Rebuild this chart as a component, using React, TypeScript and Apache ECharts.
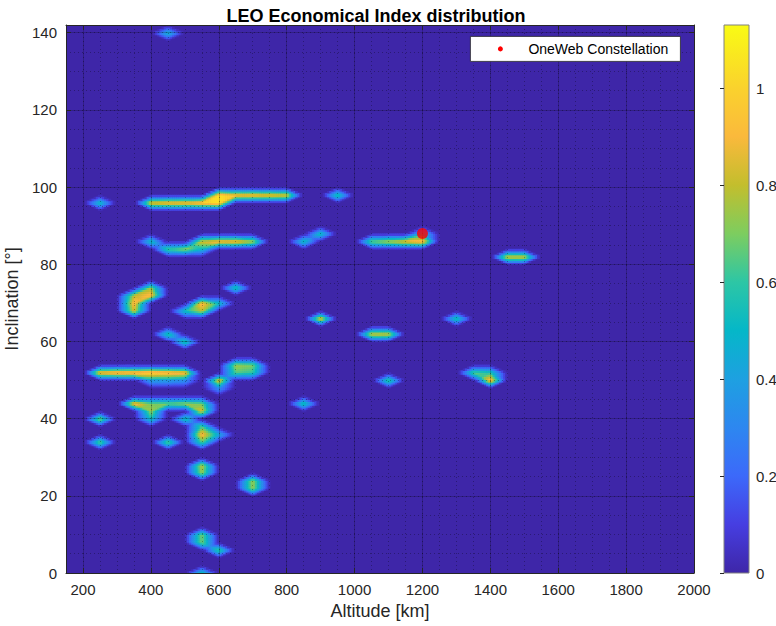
import React, { useEffect, useRef } from 'react';
import * as echarts from 'echarts';

// Surface grid (altitude in km, inclination in degrees)
const ALT_MIN = 150;
const ALT_MAX = 2000;
const ALT_STEP = 50;
const INC_MIN = 0;
const INC_MAX = 142;
const INC_STEP = 2;
const INDEX_MAX = 1.13;

// Non-zero nodes of the economical index surface
const nodeAltitude = [
  450,
  250, 400, 450, 500, 550, 600,
  600, 650, 700, 750, 800, 950,
  400, 450, 500, 550, 550, 600, 650, 700,
  850, 900,
  1050, 1100, 1150, 1200, 1200,
  1450, 1500,
  650,
  350, 350, 350, 400, 400,
  500, 550, 550, 600,
  900, 1050, 1100, 1300,
  450, 500,
  250, 300, 350, 400, 450, 500,
  400, 450, 500,
  600, 600,
  650, 700, 650, 700,
  850, 1100,
  1350, 1400, 1400,
  350, 400, 450, 500, 550,
  400, 400, 500, 550,
  550, 550, 550, 600,
  250, 250, 450,
  550, 550, 700, 700,
  550, 550, 600,
  550,
];
const nodeInclination = [
  140,
  96, 96, 96, 96, 96, 96,
  98, 98, 98, 98, 98, 98,
  86, 84, 84, 84, 86, 86, 86, 86,
  86, 88,
  86, 86, 86, 86, 88,
  82, 82,
  74,
  68, 70, 72, 72, 74,
  68, 68, 70, 70,
  66, 62, 62, 66,
  62, 60,
  52, 52, 52, 52, 52, 52,
  50, 50, 50,
  50, 48,
  52, 52, 54, 54,
  44, 50,
  52, 50, 52,
  44, 44, 44, 44, 44,
  42, 40, 40, 42,
  34, 36, 38, 36,
  40, 34, 34,
  26, 28, 22, 24,
  8, 10, 6,
  0,
];
const nodeIndex = [
  0.5,
  0.55, 0.9, 0.95, 0.95, 1.0, 1.05,
  1.05, 0.95, 0.95, 0.92, 0.88, 0.6,
  0.55, 0.65, 0.75, 0.5, 0.85, 0.95, 0.95, 0.8,
  0.55, 0.55,
  0.7, 0.8, 0.9, 1.0, 0.5,
  0.85, 0.85,
  0.6,
  0.85, 0.95, 0.8, 0.95, 0.75,
  0.55, 0.8, 0.95, 0.55,
  0.92, 0.85, 0.85, 0.6,
  0.6, 0.6,
  0.95, 1.0, 1.0, 1.05, 1.0, 0.95,
  0.4, 0.4, 0.35,
  0.9, 0.35,
  0.65, 0.6, 0.75, 0.7,
  0.6, 0.65,
  0.65, 1.0, 0.6,
  0.95, 0.7, 0.7, 0.75, 0.7,
  0.75, 0.55, 0.55, 0.85,
  0.65, 0.95, 0.65, 0.45,
  0.75, 0.7, 0.7,
  0.75, 0.8, 0.75, 0.75,
  0.7, 0.7, 0.65,
  0.6,
];

// OneWeb constellation operating point
const onewebAltitude = [1200];
const onewebInclination = [88];
const ONEWEB_NAME = 'OneWeb Constellation';

// Colormap stops: [index value, r, g, b]
const COLORMAP: number[][] = [
  [0.0, 62, 38, 168],
  [0.1, 70, 62, 225],
  [0.2, 60, 105, 250],
  [0.3, 45, 135, 240],
  [0.4, 30, 160, 225],
  [0.5, 5, 183, 200],
  [0.6, 45, 198, 165],
  [0.7, 125, 205, 95],
  [0.8, 195, 190, 45],
  [0.9, 250, 185, 60],
  [1.0, 250, 210, 45],
  [1.13, 249, 251, 20],
];

function colorOf(v: number): string {
  const x = Math.max(0, Math.min(INDEX_MAX, v));
  for (let k = 1; k < COLORMAP.length; k++) {
    if (x <= COLORMAP[k][0]) {
      const a = COLORMAP[k - 1];
      const b = COLORMAP[k];
      const u = (x - a[0]) / (b[0] - a[0]);
      const r = Math.round(a[1] + (b[1] - a[1]) * u);
      const g = Math.round(a[2] + (b[2] - a[2]) * u);
      const bl = Math.round(a[3] + (b[3] - a[3]) * u);
      return `rgb(${r},${g},${bl})`;
    }
  }
  const l = COLORMAP[COLORMAP.length - 1];
  return `rgb(${l[1]},${l[2]},${l[3]})`;
}

// Value inside one grid cell: the cell is split into four triangles
// around its centre, each shaded linearly.
function cellValue(s: number, t: number, v00: number, v10: number, v01: number, v11: number, c: number) {
  if (t <= s && t <= 1 - s) return (1 - s - t) * v00 + (s - t) * v10 + 2 * t * c;
  if (s >= t && s >= 1 - t) return (s - t) * v10 + (s + t - 1) * v11 + 2 * (1 - s) * c;
  if (t >= s && t >= 1 - s) return (s + t - 1) * v11 + (t - s) * v01 + 2 * (1 - t) * c;
  return (t - s) * v01 + (1 - s - t) * v00 + 2 * s * c;
}

function buildCells() {
  const lookup = new Map<string, number>();
  nodeAltitude.forEach((a, k) => lookup.set(`${a}|${nodeInclination[k]}`, nodeIndex[k]));
  const get = (a: number, i: number) => lookup.get(`${a}|${i}`) ?? 0;
  const keys = new Set<string>();
  const cells: number[][] = [];
  nodeAltitude.forEach((a, k) => {
    const i = nodeInclination[k];
    for (const da of [-ALT_STEP, 0]) {
      for (const di of [-INC_STEP, 0]) {
        const ca = a + da;
        const ci = i + di;
        if (ca < ALT_MIN || ca + ALT_STEP > ALT_MAX || ci < INC_MIN || ci + INC_STEP > INC_MAX) continue;
        const key = `${ca}|${ci}`;
        if (keys.has(key)) continue;
        keys.add(key);
        cells.push([
          ca, ci,
          get(ca, ci), get(ca + ALT_STEP, ci),
          get(ca, ci + INC_STEP), get(ca + ALT_STEP, ci + INC_STEP),
        ]);
      }
    }
  });
  return cells;
}

const NX = 8;
const NY = 4;
const AXIS_COLOR = '#262626';
const MAJOR_GRID = 'rgba(0,0,0,0.2)';
const MINOR_GRID = 'rgba(0,0,0,0.3)';
const FONT = "'Liberation Sans', Arial, Helvetica, sans-serif";
const plainNumber = (v: number) => String(parseFloat(v.toFixed(2)));

function buildOption(): echarts.EChartsOption {
  const cells = buildCells();
  const gradientStops = COLORMAP.map((s) => ({
    offset: s[0] / INDEX_MAX,
    color: `rgb(${s[1]},${s[2]},${s[3]})`,
  }));

  return {
    animation: false,
    backgroundColor: '#ffffff',
    textStyle: { fontFamily: FONT },
    title: {
      text: 'LEO Economical Index distribution',
      left: 371,
      top: 2,
      textAlign: 'center',
      textStyle: { fontSize: 18, fontWeight: 'bold', color: '#000', fontFamily: FONT },
    },
    graphic: [
      {
        type: 'group',
        left: 470,
        top: 36,
        z: 100,
        children: [
          {
            type: 'rect',
            z: 100,
            shape: { x: 0, y: 0, width: 210, height: 25 },
            style: { fill: '#ffffff', stroke: AXIS_COLOR, lineWidth: 0.8 },
          },
          {
            type: 'circle',
            z: 101,
            shape: { cx: 30, cy: 12.5, r: 2.5 },
            style: { fill: '#ff0000' },
          },
          {
            type: 'text',
            z: 101,
            x: 58,
            y: 12.5,
            style: {
              text: ONEWEB_NAME,
              fill: '#000',
              fontSize: 14,
              fontFamily: FONT,
              verticalAlign: 'middle',
              align: 'left',
            },
          },
        ],
      },
    ],
    grid: [
      {
        left: 66, top: 25, width: 628, height: 548, show: true,
        backgroundColor: colorOf(0), borderWidth: 0, outerBoundsMode: 'none', containLabel: false,
      },
      { left: 724, top: 25, width: 25, height: 548, outerBoundsMode: 'none', containLabel: false },
    ],
    xAxis: [
      {
        gridIndex: 0, type: 'value', min: ALT_MIN, max: ALT_MAX, interval: ALT_STEP, position: 'bottom', z: 5,
        axisLine: { show: true, onZero: false, lineStyle: { color: AXIS_COLOR, width: 1 } },
        axisTick: { show: false }, axisLabel: { show: false },
        splitLine: { show: true, lineStyle: { color: MINOR_GRID, width: 1, type: [1, 3] } },
      },
      {
        gridIndex: 0, type: 'value', min: ALT_MIN, max: ALT_MAX, splitNumber: 9, position: 'bottom', z: 5,
        axisLine: { show: false, onZero: false },
        axisTick: { show: true, inside: true, length: 5, lineStyle: { color: AXIS_COLOR } },
        axisLabel: {
          fontSize: 15, color: AXIS_COLOR, margin: 9, showMinLabel: false, fontFamily: FONT,
          formatter: plainNumber,
        },
        splitLine: { show: true, lineStyle: { color: MAJOR_GRID, width: 1 } },
        name: 'Altitude [km]', nameLocation: 'middle', nameGap: 24,
        nameTextStyle: { fontSize: 18, color: AXIS_COLOR, fontFamily: FONT },
      },
      {
        gridIndex: 0, type: 'value', min: ALT_MIN, max: ALT_MAX, splitNumber: 9, position: 'top', z: 5,
        axisLine: { show: true, onZero: false, lineStyle: { color: AXIS_COLOR, width: 1 } },
        axisTick: { show: true, inside: true, length: 5, lineStyle: { color: AXIS_COLOR } },
        axisLabel: { show: false }, splitLine: { show: false },
      },
      { gridIndex: 1, type: 'value', min: 0, max: 1, show: false },
    ],
    yAxis: [
      {
        gridIndex: 0, type: 'value', min: INC_MIN, max: INC_MAX, interval: 5, position: 'left', z: 5,
        axisLine: { show: true, onZero: false, lineStyle: { color: AXIS_COLOR, width: 1 } },
        axisTick: { show: false }, axisLabel: { show: false },
        splitLine: { show: true, lineStyle: { color: MINOR_GRID, width: 1, type: [1, 3] } },
      },
      {
        gridIndex: 0, type: 'value', min: INC_MIN, max: INC_MAX, interval: 20, position: 'left', z: 5,
        axisLine: { show: false, onZero: false },
        axisTick: { show: true, inside: true, length: 5, lineStyle: { color: AXIS_COLOR } },
        axisLabel: {
          fontSize: 15, color: AXIS_COLOR, margin: 9, showMaxLabel: false, fontFamily: FONT,
          formatter: plainNumber,
        },
        splitLine: { show: true, lineStyle: { color: MAJOR_GRID, width: 1 } },
        name: 'Inclination [°]', nameLocation: 'middle', nameGap: 33, nameRotate: 90,
        nameTextStyle: { fontSize: 18, color: AXIS_COLOR, fontFamily: FONT },
      },
      {
        gridIndex: 0, type: 'value', min: INC_MIN, max: INC_MAX, interval: 20, position: 'right', z: 5,
        axisLine: { show: true, onZero: false, lineStyle: { color: AXIS_COLOR, width: 1 } },
        axisTick: { show: true, inside: true, length: 5, lineStyle: { color: AXIS_COLOR } },
        axisLabel: { show: false }, splitLine: { show: false },
      },
      {
        gridIndex: 1, type: 'value', min: 0, max: INDEX_MAX, interval: 0.2, position: 'right', z: 5,
        axisLine: { show: false },
        axisTick: { show: true, inside: true, length: 4, lineStyle: { color: AXIS_COLOR } },
        axisLabel: {
          fontSize: 15, color: AXIS_COLOR, margin: 7, showMaxLabel: false, fontFamily: FONT,
          formatter: plainNumber,
        },
        splitLine: { show: false },
      },
    ],
    series: [
      {
        type: 'custom',
        xAxisIndex: 0,
        yAxisIndex: 0,
        silent: true,
        z: 2,
        clip: true,
        data: cells,
        renderItem: (params: any, api: any) => {
          const x0 = api.value(0);
          const y0 = api.value(1);
          const v00 = api.value(2);
          const v10 = api.value(3);
          const v01 = api.value(4);
          const v11 = api.value(5);
          const sorted = [v00, v10, v01, v11].sort((a, b) => a - b);
          const c = (sorted[1] + sorted[2]) / 2;
          const pA = api.coord([x0, y0]);
          const pB = api.coord([x0 + ALT_STEP, y0 + INC_STEP]);
          const w = (pB[0] - pA[0]) / NX;
          const h = (pA[1] - pB[1]) / NY;
          const children: any[] = [];
          for (let j = 0; j < NY; j++) {
            for (let i = 0; i < NX; i++) {
              const s = (i + 0.5) / NX;
              const t = (j + 0.5) / NY;
              const f = cellValue(s, t, v00, v10, v01, v11, c);
              if (f < 0.004) continue;
              children.push({
                type: 'rect',
                shape: { x: pA[0] + i * w, y: pA[1] - (j + 1) * h, width: w + 0.6, height: h + 0.6 },
                style: { fill: colorOf(f) },
              });
            }
          }
          return { type: 'group', children };
        },
      },
      {
        type: 'scatter',
        name: ONEWEB_NAME,
        xAxisIndex: 0,
        yAxisIndex: 0,
        z: 6,
        symbol: 'circle',
        symbolSize: 11,
        itemStyle: { color: '#ff0000' },
        data: onewebAltitude.map((a, k) => [a, onewebInclination[k]]),
      },
      {
        type: 'custom',
        xAxisIndex: 3,
        yAxisIndex: 3,
        silent: true,
        data: [[0, 0]],
        renderItem: (params: any, api: any) => {
          const pA = api.coord([0, 0]);
          const pB = api.coord([1, INDEX_MAX]);
          return {
            type: 'rect',
            shape: { x: pA[0], y: pB[1], width: pB[0] - pA[0], height: pA[1] - pB[1] },
            style: {
              fill: new echarts.graphic.LinearGradient(0, 1, 0, 0, gradientStops),
              stroke: '#808080',
              lineWidth: 1,
            },
          };
        },
      },
    ],
  } as echarts.EChartsOption;
}

export default function App() {
  const ref = useRef<HTMLDivElement>(null);
  useEffect(() => {
    document.body.style.margin = '0';
    const chart = echarts.init(ref.current as HTMLDivElement, undefined, { renderer: 'svg' });
    chart.setOption(buildOption());
    return () => chart.dispose();
  }, []);
  return <div ref={ref} style={{ width: 776, height: 626 }} />;
}
